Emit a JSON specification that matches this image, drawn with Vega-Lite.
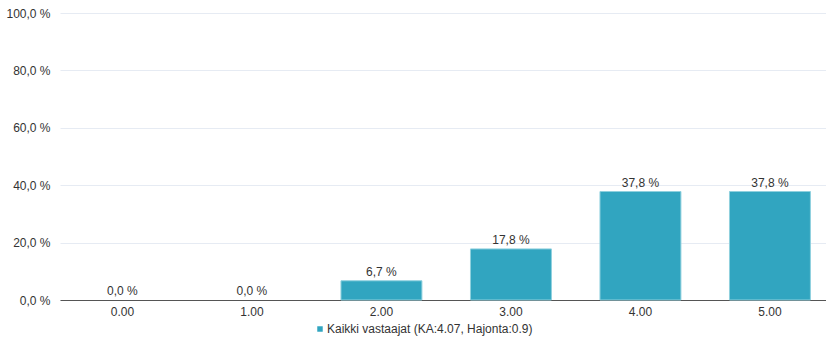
{
  "$schema": "https://vega.github.io/schema/vega-lite/v6.json",
  "width": 766,
  "height": 287,
  "autosize": {"type": "none"},
  "padding": {"left": 60, "top": 13, "right": 0, "bottom": 40},
  "background": "white",
  "config": {
    "view": {"stroke": null},
    "font": "Liberation Sans"
  },
  "data": {
    "values": [
      {"cat": "0.00", "pct": 0.0, "series": "Kaikki vastaajat (KA:4.07, Hajonta:0.9)"},
      {"cat": "1.00", "pct": 0.0, "series": "Kaikki vastaajat (KA:4.07, Hajonta:0.9)"},
      {"cat": "2.00", "pct": 6.7, "series": "Kaikki vastaajat (KA:4.07, Hajonta:0.9)"},
      {"cat": "3.00", "pct": 17.8, "series": "Kaikki vastaajat (KA:4.07, Hajonta:0.9)"},
      {"cat": "4.00", "pct": 37.8, "series": "Kaikki vastaajat (KA:4.07, Hajonta:0.9)"},
      {"cat": "5.00", "pct": 37.8, "series": "Kaikki vastaajat (KA:4.07, Hajonta:0.9)"}
    ]
  },
  "encoding": {
    "x": {
      "field": "cat", "type": "ordinal", "title": null,
      "scale": {"paddingInner": 0.375, "paddingOuter": 0.145, "align": 0.585},
      "axis": {"labelAngle": 0, "ticks": false, "domainColor": "#555555", "labelColor": "#333333", "labelFontSize": 12, "labelPadding": 6, "grid": false}
    },
    "y": {
      "field": "pct", "type": "quantitative", "title": null,
      "scale": {"domain": [0, 100]},
      "axis": {"values": [0, 20, 40, 60, 80, 100], "domain": false, "ticks": false, "gridColor": "#e6ebf3", "labelColor": "#333333", "labelFontSize": 12, "labelPadding": 10,
        "labelExpr": "replace(format(datum.value, '.1f'), '.', ',') + ' %'"}
    }
  },
  "layer": [
    {
      "mark": {"type": "bar", "strokeWidth": 1},
      "encoding": {
        "color": {
          "field": "series", "type": "nominal",
          "scale": {"range": ["#31a5c0"]},
          "legend": {"orient": "none", "legendX": 254, "legendY": 310, "direction": "horizontal", "title": null, "symbolType": "square", "symbolSize": 30, "labelFontSize": 12, "labelColor": "#333333", "labelLimit": 400, "symbolStrokeWidth": 0, "labelOffset": 1}
        },
        "stroke": {"condition": {"test": "datum.pct > 0", "value": "#8fd0de"}, "value": null}
      }
    },
    {
      "mark": {"type": "text", "dy": -9, "fontSize": 12, "color": "#333333"},
      "encoding": {
        "text": {"field": "label"},
        "y": {"field": "pct", "type": "quantitative"}
      },
      "transform": [{"calculate": "replace(format(datum.pct, '.1f'), '.', ',') + ' %'", "as": "label"}]
    }
  ]
}
